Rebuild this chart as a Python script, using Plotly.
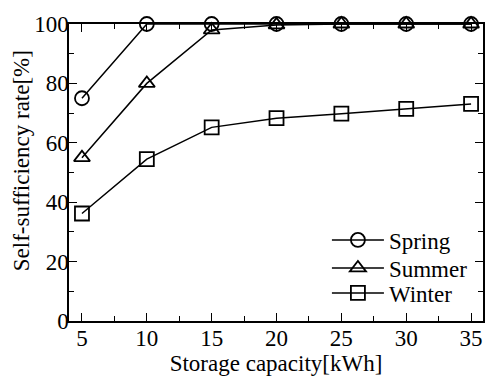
import plotly.graph_objects as go

capacity = [5, 10, 15, 20, 25, 30, 35]
spring = [75, 100, 100, 100, 100, 100, 100]
summer = [55, 80, 98, 99.7, 100, 100, 100]
winter = [36.2, 54.5, 65.2, 68.3, 69.8, 71.4, 73.1]
x_ticks = [5, 10, 15, 20, 25, 30, 35]
y_ticks = [0, 20, 40, 60, 80, 100]
series_names = ["Spring", "Summer", "Winter"]

FONT = "Liberation Serif"
FS = 23

fig = go.Figure()
symbols = ["circle-open", "triangle-up-open", "square-open"]
legends = ["legend", "legend2", "legend3"]
for name, vals, sym, lg in zip(series_names, [spring, summer, winter], symbols, legends):
    fig.add_trace(go.Scatter(
        x=capacity, y=vals, name=name, mode="lines+markers", legend=lg,
        line=dict(color="black", width=1.5),
        marker=dict(symbol=sym, size=14, color="black", line=dict(width=1.8, color="black")),
        cliponaxis=False,
    ))

axis_common = dict(
    showline=True, linecolor="black", linewidth=1.5, mirror="ticks",
    ticks="inside", tickcolor="black", tickwidth=1.2, ticklen=8,
    showgrid=False, zeroline=False,
    tickfont=dict(family=FONT, size=FS, color="black"),
    minor=dict(ticks="inside", ticklen=5, tickcolor="black", tickwidth=1.2),
)

fig.update_xaxes(range=[4, 35.92], tickvals=x_ticks, ticktext=[str(v) for v in x_ticks],
                 minor_dtick=2.5, ticklabelstandoff=-4,
                 title=dict(text="Storage capacity[kWh]", font=dict(family=FONT, size=FS, color="black"), standoff=4),
                 **axis_common)
fig.update_yaxes(range=[0, 100], tickvals=y_ticks, minor_dtick=10, ticklabelstandoff=-6,
                 **axis_common)

leg_common = dict(xanchor="left", yanchor="middle", bgcolor="rgba(0,0,0,0)",
                  font=dict(family=FONT, size=FS, color="black"), itemwidth=52)
fig.update_layout(
    width=486, height=378,
    margin=dict(l=69, r=1, t=24, b=57),
    plot_bgcolor="white", paper_bgcolor="white",
    font=dict(family=FONT, color="black"),
    legend=dict(x=0.623, y=0.2727, **leg_common),
    legend2=dict(x=0.623, y=0.1785, **leg_common),
    legend3=dict(x=0.623, y=0.0943, **leg_common),
    showlegend=True,
    annotations=[dict(text="Self-sufficiency rate[%]", textangle=-90, xref="paper", yref="paper",
                      x=-0.1154, y=0.5387, xanchor="center", yanchor="middle", showarrow=False,
                      font=dict(family=FONT, size=FS, color="black"))],
)

fig.write_html("out.html", config={"displayModeBar": False},
               post_script="document.body.style.margin='0';")
